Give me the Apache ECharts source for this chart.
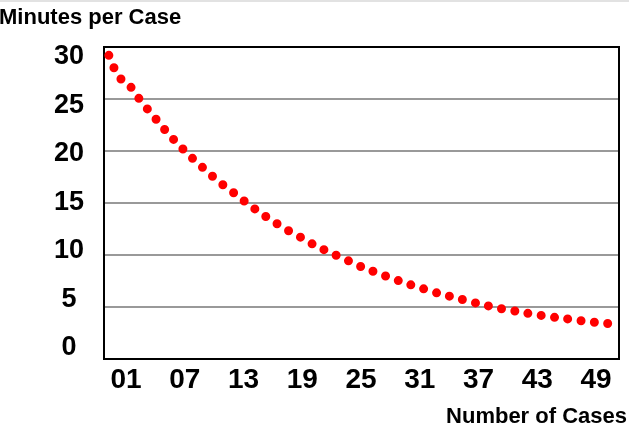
<!DOCTYPE html>
<html>
<head>
<meta charset="utf-8">
<script src="https://cdn.jsdelivr.net/npm/echarts@6/dist/echarts.min.js"></script>
<style>
  html, body { margin: 0; padding: 0; background: #fff; }
  #chart { width: 629px; height: 434px; }
</style>
</head>
<body>
<div id="chart"></div>
<script>
// Data points along the curve (one per case step)
const cases = ['00','01','02','03','04','05','06','07','08','09','10','11','12','13','14','15','16','17','18','19','20','21','22','23','24','25','26','27','28','29','30','31','32','33','34','35','36','37','38','39','40','41','42','43','44','45','46','47','48','49','50','51','52'];
const minutesPerCase = [29.2, 27.15, 26.44, 25.17, 24.0, 22.9, 21.78, 20.78, 19.84, 18.95,
  18.13, 17.3, 16.56, 15.87, 15.14, 14.45, 13.8, 13.19, 12.6, 12.06,
  11.58, 11.03, 10.57, 10.13, 9.73, 9.29, 8.86, 8.5, 8.14, 7.8,
  7.47, 7.15, 6.86, 6.57, 6.29, 6.05, 5.81, 5.57, 5.33, 5.12,
  4.91, 4.73, 4.58, 4.41, 4.26, 4.12, 3.99, 3.88, 3.76, 3.62,
  3.53, 3.45, 3.34];
// Tick labels
const xTickLabels = ['01','07','13','19','25','31','37','43','49'];
const yTickLabels = ['0','5','10','15','20','25','30'];

const chart = echarts.init(document.getElementById('chart'), null, { renderer: 'canvas' });
const FONT = 'Liberation Sans, Arial, sans-serif';

chart.setOption({
  animation: false,
  backgroundColor: '#fff',
  title: [
    { text: 'Minutes per Case', left: -1, top: 7, padding: 0,
      textStyle: { fontFamily: FONT, fontWeight: 'bold', fontSize: 22, color: '#000' } },
    { text: 'Number of Cases', right: 2, top: 406, padding: 0,
      textStyle: { fontFamily: FONT, fontWeight: 'bold', fontSize: 22, color: '#000' } }
  ],
  graphic: [
    { type: 'rect', left: 0, top: 0, shape: { width: 629, height: 2 }, style: { fill: '#e2e2e2' }, silent: true }
  ],
  grid: [
    { left: 104, top: 47, width: 515, height: 312, z: 1,
      show: true, borderColor: '#000', borderWidth: 2, backgroundColor: 'transparent' },
    // label-only grid (tick labels in the reference sit slightly off the gridlines)
    { left: 126, top: 57, width: 470, height: 291, show: false }
  ],
  xAxis: [
    { type: 'category', gridIndex: 0, data: cases, boundaryGap: true, show: false },
    { type: 'category', gridIndex: 1, data: xTickLabels, boundaryGap: false,
      axisLine: { show: false }, axisTick: { show: false }, splitLine: { show: false },
      axisLabel: { interval: 0, margin: 18, fontFamily: FONT, fontWeight: 'bold', fontSize: 28, color: '#000' } }
  ],
  yAxis: [
    { type: 'value', gridIndex: 0, min: 0, max: 30, interval: 5, z: 0,
      axisLine: { show: false }, axisTick: { show: false }, axisLabel: { show: false },
      splitLine: { show: true, showMinLine: false, showMaxLine: false, lineStyle: { color: '#999', width: 2 } } },
    { type: 'category', gridIndex: 1, data: yTickLabels, boundaryGap: false,
      axisLine: { show: false }, axisTick: { show: false }, splitLine: { show: false },
      axisLabel: { interval: 0, margin: 57, align: 'center', fontFamily: FONT, fontWeight: 'bold', fontSize: 27, color: '#000' } }
  ],
  series: [
    { type: 'line', xAxisIndex: 0, yAxisIndex: 0, data: minutesPerCase, z: 3,
      showSymbol: false, smooth: 0.3, clip: false,
      lineStyle: { color: '#ff0000', width: 9, type: [0, 13.4], cap: 'round' } }
  ]
});
</script>
</body>
</html>
